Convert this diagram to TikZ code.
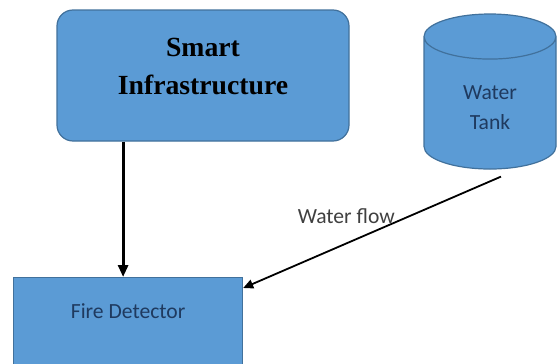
\documentclass[tikz,border=0pt]{standalone}
\usepackage{fontspec}
\setmainfont{Carlito}
\newfontfamily\titleserif{Liberation Serif}
\usetikzlibrary{shapes.geometric,arrows.meta,positioning,calc}
\definecolor{boxblue}{HTML}{5B9BD5}
\definecolor{boxedge}{HTML}{41719C}
\definecolor{labelnavy}{HTML}{1F3A5F}

\begin{document}
\begin{tikzpicture}[x=0.5pt,y=-0.5pt,
    block/.style={draw=boxedge,fill=boxblue,line width=0.6pt},
    smalltext/.style={font=\fontsize{10.8}{15}\selectfont}]
    \useasboundingbox[fill=white] (0,0) rectangle (557,364);
    \node[block,rounded corners=8pt,minimum width=146pt,minimum height=65.5pt,
          label={[name=smarttext,yshift=4.75pt,align=center,font=\titleserif\bfseries\fontsize{13.85}{19}\selectfont]center:Smart\\Infrastructure}]
          (smart) at (203,75.5) {};
    \node[block,cylinder,shape border rotate=90,aspect=0.67,minimum width=66pt,minimum height=77.5pt,
          align=center,smalltext,text=labelnavy] (tank) at (490,108) {Water\\Tank};
    \node[block,anchor=north west,minimum width=114.5pt,inner sep=0pt,text height=20.5pt,text depth=31pt,
          smalltext,text=labelnavy] (fire) at (13,277) {Fire Detector};
    \coordinate (flowstart) at ($(tank.south)+(11,7)$);
    \coordinate (flowend) at ($(fire.north east)+(0,11)$);
    \draw[-{Triangle[length=6pt,width=5pt]},line width=1.4pt] ($(smart.south -| fire.north)+(-5,0)$) -- ($(fire.north)+(-5,0)$);
    \draw[-{Triangle[length=5pt,width=4.5pt]},line width=0.9pt] (flowstart) -- node[pos=0.6,above=6pt,smalltext,text=black!75] {Water flow} (flowend);
\end{tikzpicture}
\end{document}
